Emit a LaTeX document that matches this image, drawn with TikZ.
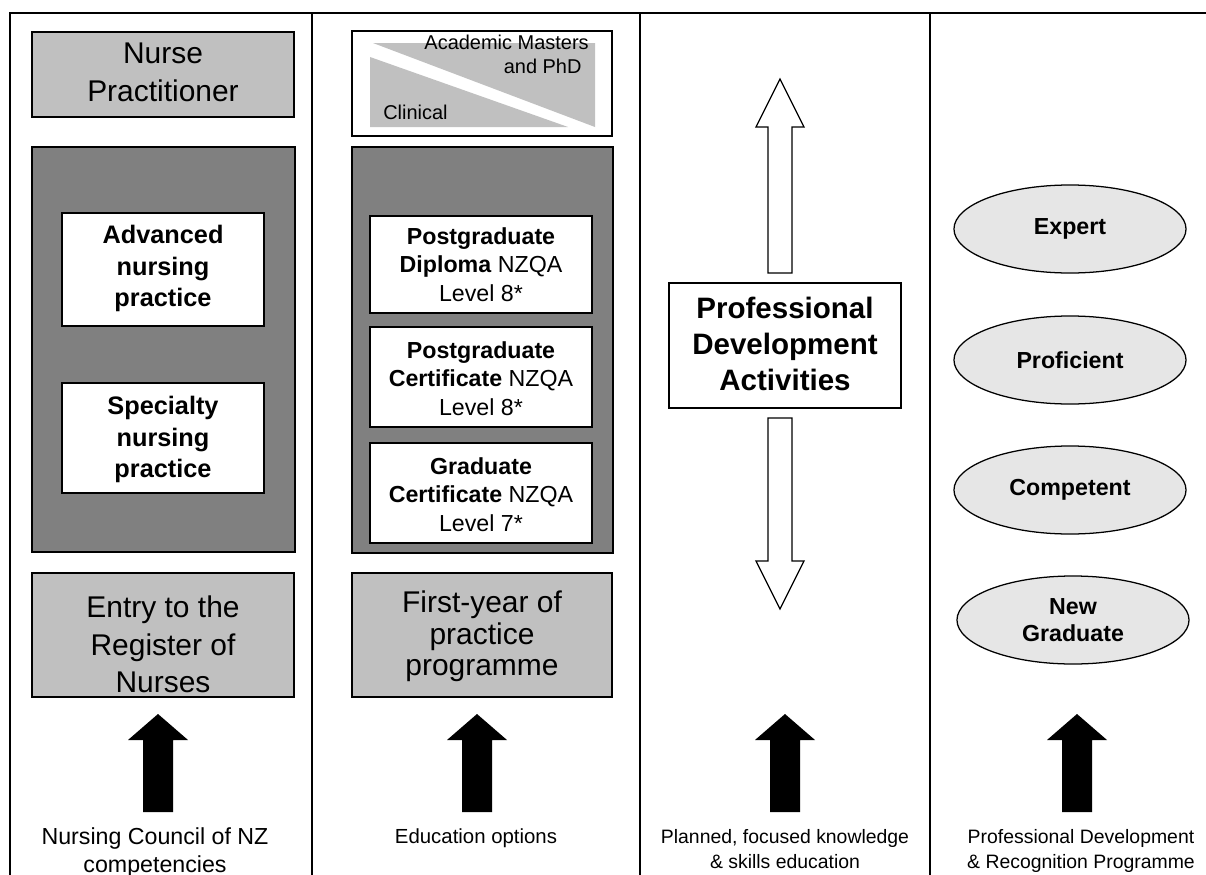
\documentclass[tikz,border=0pt]{standalone}
\usepackage{fontspec}
\setmainfont{Liberation Sans}
\usetikzlibrary{fit,shapes.geometric}

\definecolor{boxgray}{HTML}{C0C0C0}
\definecolor{panelgray}{HTML}{808080}
\definecolor{ovalgray}{HTML}{E6E6E6}

\tikzset{
  outline/.style={draw=black, line width=0.9pt},
  greybox/.style={outline, fill=boxgray, inner sep=0pt},
  panel/.style={outline, fill=panelgray, inner sep=0pt},
  whitebox/.style={outline, fill=white, inner sep=0pt},
  bigtext/.style={inner sep=0pt, align=center, font=\fontsize{21.3}{26.5}\selectfont},
  stagetext/.style={inner sep=0pt, align=center, font=\bfseries\fontsize{18}{22.5}\selectfont},
  coursetext/.style={inner sep=0pt, align=center, font=\fontsize{16.5}{20.4}\selectfont},
  pdtext/.style={inner sep=0pt, align=center, font=\bfseries\fontsize{21}{25.6}\selectfont},
  smalltext/.style={inner sep=0pt, font=\fontsize{14.2}{17}\selectfont},
  level/.style={outline, ellipse, fill=ovalgray, minimum width=5.8cm, minimum height=2.2cm,
    inner sep=0pt, align=center, font=\bfseries\fontsize{16.5}{19}\selectfont},
  caption/.style={inner sep=0pt, align=center},
  hollowarrow/.style={outline, fill=white},
}

\begin{document}
\begin{tikzpicture}[x=0.025cm, y=-0.025cm]
\useasboundingbox (0,0) rectangle (1206,875);

% column frame
\draw[line width=1pt] (10,875) -- (10,13) -- (1206,13);
\foreach \xcol in {312,640,930}
  \draw[line width=1pt] (\xcol,13) -- (\xcol,875);

% column 1
\node[greybox, fit={(32,32) (294,117)}] (np) {};
\node[bigtext, anchor=north] (nptext) at (163,43) {Nurse\\Practitioner};
\node[panel, fit={(32,147) (295,552)}] (practice) {};
\node[whitebox, fit={(62,213) (264,326)}] (advanced) {};
\node[stagetext, anchor=north] (advtext) at (163,225) {Advanced\\nursing\\practice};
\node[whitebox, fit={(62,383) (264,493)}] (specialty) {};
\node[stagetext, anchor=north] (spectext) at (163,396) {Specialty\\nursing\\practice};
\node[greybox, fit={(32,573) (294,697)}] (entry) {};
\node[bigtext, anchor=north] (entrytext) at (163,596) {Entry to the\\Register of\\Nurses};
\node[caption, anchor=north, font=\fontsize{16.5}{20}\selectfont] (ncnz) at (155,827)
  {Nursing Council of NZ\\competencies};

% column 2
\node[whitebox, fit={(352,31) (612,136)}] (routes) {};
\fill[boxgray] (373,43) -- (595,43) -- (595,127) -- cycle;
\fill[boxgray] (370,57) -- (370,127) -- (568,127) -- cycle;
\node[smalltext, anchor=north east, align=right] (academic) at (589,35)
  {Academic Masters\\and PhD\hspace*{0.18cm}};
\node[smalltext, anchor=base west] (clinical) at (383,119) {Clinical};
\node[panel, fit={(352,147) (613,553)}] (courses) {};
\node[whitebox, fit={(370,216) (592,313)}] (pgdip) {};
\node[coursetext, anchor=north] (pgdiptext) at (481,227)
  {\textbf{Postgraduate}\\\textbf{Diploma} NZQA\\Level 8*};
\node[whitebox, fit={(370,327) (592,427)}] (pgcert) {};
\node[coursetext, anchor=north] (pgcerttext) at (481,341)
  {\textbf{Postgraduate}\\\textbf{Certificate} NZQA\\Level 8*};
\node[whitebox, fit={(370,443) (592,543)}] (gradcert) {};
\node[coursetext, anchor=north] (gradcerttext) at (481,457)
  {\textbf{Graduate}\\\textbf{Certificate} NZQA\\Level 7*};
\node[greybox, fit={(352,573) (612,697)}] (firstyear) {};
\node[bigtext, anchor=north, font=\fontsize{21.3}{22.4}\selectfont] (firstyeartext) at (482,591)
  {First-year of\\practice\\programme};
\node[caption, anchor=north, font=\fontsize{14.5}{18}\selectfont] (eduopt) at (476,828)
  {Education options};

% column 3
\draw[hollowarrow] (768,273) -- (768,127) -- (756,127) -- (780,79) -- (804,127)
  -- (792,127) -- (792,273) -- cycle;
\node[whitebox, fit={(669,283) (901,408)}] (pda) {};
\node[pdtext, anchor=north] (pdatext) at (785,297) {Professional\\Development\\Activities};
\draw[hollowarrow] (768,418) -- (792,418) -- (792,561) -- (804,561) -- (780,609)
  -- (756,561) -- (768,561) -- cycle;
\node[caption, anchor=north, font=\fontsize{13.8}{18}\selectfont] (planned) at (785,829)
  {Planned, focused knowledge\\\& skills education};

% column 4
\node[level] (expert) at (1070,229) {Expert};
\node[level] (proficient) at (1070,360) {Proficient};
\node[level] (competent) at (1070,490) {Competent};
\node[level] (newgrad) at (1073,620) {New\\Graduate};
\node[caption, anchor=north, font=\fontsize{13.8}{18}\selectfont] (pdrp) at (1081,829)
  {Professional Development\\\& Recognition Programme};

% black arrows
\foreach \cx in {158,477,785,1077}
  \fill ({\cx-15},812) -- ({\cx-15},740) -- ({\cx-30},740) -- (\cx,714)
    -- ({\cx+30},740) -- ({\cx+15},740) -- ({\cx+15},812) -- cycle;
\end{tikzpicture}
\end{document}
